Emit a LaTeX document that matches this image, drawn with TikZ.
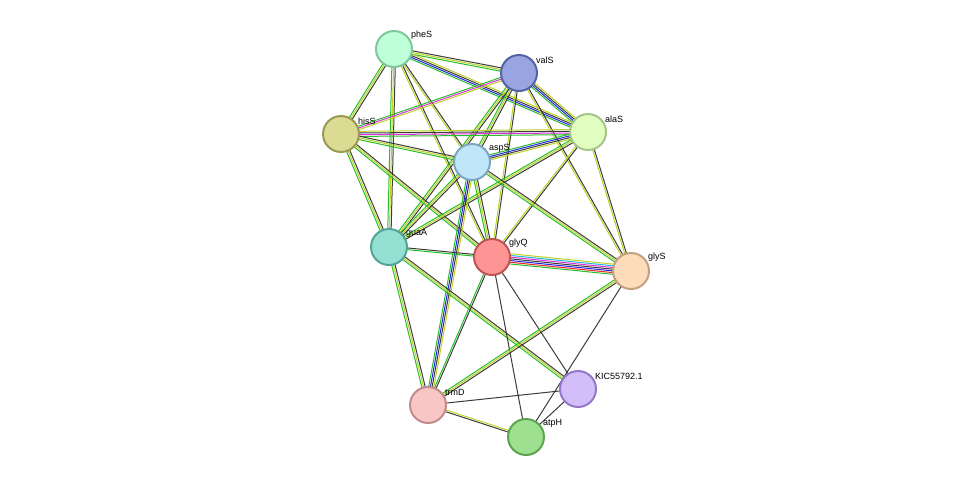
\documentclass[tikz,border=0pt]{standalone}
\usepackage{fontspec}
\setmainfont{Liberation Sans}
\usetikzlibrary{calc}
\definecolor{eg}{RGB}{40,190,40}
\definecolor{ey}{RGB}{190,210,40}
\definecolor{ek}{RGB}{60,60,60}
\definecolor{eb}{RGB}{40,40,230}
\definecolor{em}{RGB}{220,50,220}
\definecolor{er}{RGB}{240,40,40}
\definecolor{ec}{RGB}{40,180,220}
% parallel evidence lines between two proteins
\newcommand\lnk[4]{%
  \foreach \c [count=\i] in {#4}
    \draw[color=\c, line width=1pt]
      ($(#1)!{(\i-(#3+1)/2)*1.7pt}!90:(#2)$) -- ($(#2)!{(\i-(#3+1)/2)*1.7pt}!-90:(#1)$);}
\begin{document}
\begin{tikzpicture}[x=1pt, y=-1pt,
	prot/.style={circle, draw, line width=2pt, minimum size=36pt, inner sep=0pt},
	plabel/.style={font=\fontsize{9}{10}\selectfont, anchor=south west, inner sep=1pt}
]
\useasboundingbox (0,0) rectangle (976,483);

\coordinate (pheS) at (394,49);
\coordinate (valS) at (519,73);
\coordinate (alaS) at (588,132);
\coordinate (hisS) at (341,134);
\coordinate (aspS) at (472,162);
\coordinate (guaA) at (389,247);
\coordinate (glyQ) at (492,257);
\coordinate (glyS) at (631,271);
\coordinate (kic) at (578,389);
\coordinate (trmD) at (428,405);
\coordinate (atpH) at (526,437);

\lnk{pheS}{valS}{3}{eg,ey,ek}
\lnk{pheS}{alaS}{4}{eg,eb,ek,ey}
\lnk{pheS}{hisS}{3}{eg,ey,ek}
\lnk{pheS}{aspS}{2}{ey,ek}
\lnk{pheS}{guaA}{3}{eg,ey,ek}
\lnk{pheS}{glyQ}{2}{ey,ek}
\lnk{valS}{hisS}{3}{eg,em,ey}
\lnk{valS}{alaS}{4}{eg,eb,ek,ey}
\lnk{valS}{aspS}{3}{eg,ey,ek}
\lnk{valS}{guaA}{3}{eg,ey,ek}
\lnk{valS}{glyQ}{2}{ey,ek}
\lnk{valS}{glyS}{2}{ey,ek}
\lnk{hisS}{alaS}{4}{eg,em,ek,ey}
\lnk{hisS}{aspS}{3}{eg,ey,ek}
\lnk{hisS}{guaA}{3}{eg,ey,ek}
\lnk{hisS}{glyQ}{3}{eg,ey,ek}
\lnk{alaS}{aspS}{4}{eg,eb,ek,ey}
\lnk{alaS}{guaA}{3}{eg,ey,ek}
\lnk{alaS}{glyQ}{2}{ey,ek}
\lnk{alaS}{glyS}{2}{ey,ek}
\lnk{aspS}{guaA}{3}{eg,ey,ek}
\lnk{aspS}{glyQ}{3}{eg,ey,ek}
\lnk{aspS}{glyS}{3}{eg,ey,ek}
\lnk{aspS}{trmD}{4}{eg,eb,ek,ey}
\lnk{guaA}{glyQ}{2}{eg,ek}
\lnk{guaA}{trmD}{3}{eg,ey,ek}
\lnk{guaA}{kic}{3}{eg,ey,ek}
\lnk{glyQ}{glyS}{7}{eg,er,eb,ek,em,ec,ey}
\lnk{glyQ}{trmD}{2}{eg,ek}
\lnk{glyQ}{kic}{1}{ek}
\lnk{glyQ}{atpH}{1}{ek}
\lnk{glyS}{trmD}{3}{eg,ey,ek}
\lnk{glyS}{atpH}{1}{ek}
\lnk{trmD}{kic}{1}{ek}
\lnk{trmD}{atpH}{2}{ek,ey}
\lnk{kic}{atpH}{1}{ek}

\foreach \n/\f/\d/\t in {pheS/BFFFD9/7FC89A/pheS, valS/98A5E0/5463A3/valS, alaS/E2FDC0/A4C588/alaS,
	hisS/DCDB94/9B9A52/hisS, aspS/C0E6FA/7EA6BC/aspS, guaA/96DFD3/51A69A/guaA,
	glyQ/FF9494/C05555/glyQ, glyS/FDDCBB/C3A082/glyS, kic/D4BEFA/9377C8/KIC55792.1,
	trmD/F8C6C6/C18C8C/trmD, atpH/9DE08F/5EA450/atpH} {
	\definecolor{fc}{HTML}{\f}\definecolor{dc}{HTML}{\d}
	\node[prot, fill=fc, draw=dc] (n\n) at (\n) {};
	\node[plabel] at ($(\n)+(16,-8)$) {\t};
}
\end{tikzpicture}
\end{document}
